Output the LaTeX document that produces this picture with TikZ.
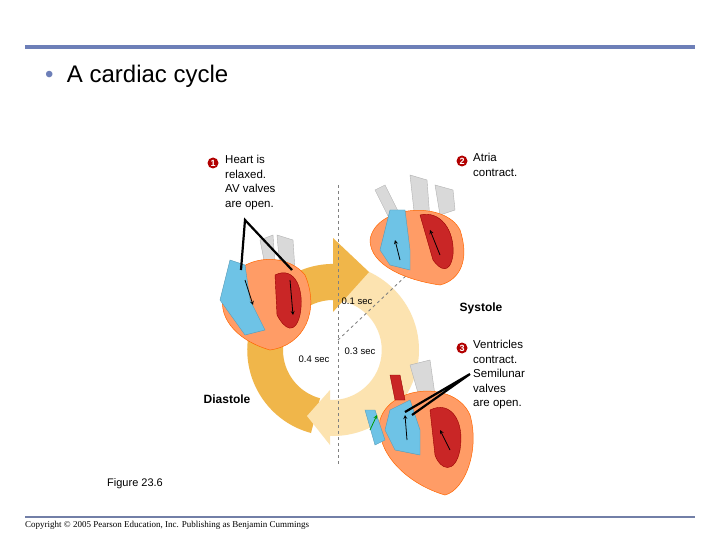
\documentclass[tikz,border=0pt]{standalone}
\usepackage{fontspec}
\usetikzlibrary{calc}
\setmainfont{Liberation Sans}
\newfontfamily\serifx{Liberation Serif}
\begin{document}
\begin{tikzpicture}[x=1pt,y=-1pt,
  lbl/.style={font=\fontsize{11.5}{14.5}\selectfont, align=left, anchor=north west, inner sep=0},
  num/.style={circle, fill=red!70!black, text=white, font=\bfseries\fontsize{9}{9}\selectfont, inner sep=0.5pt, minimum size=11pt},
  bold/.style={font=\bfseries\fontsize{12}{12}\selectfont, inner sep=0},
  dashln/.style={gray, dashed, line width=0.8pt},
  ptr/.style={line width=2.2pt, black},
  wall/.style={fill=orange!70!red!60, draw=orange!80!red, line width=0.5pt},
  bluech/.style={fill=bluec, draw=bluec!80!black},
  redch/.style={fill=red!75!black!85, draw=red!60!black},
  vess/.style={fill=gray!30, draw=gray!60}]
\definecolor{bluec}{HTML}{6EC3E6}
\useasboundingbox (0,0) rectangle (720,540);
\fill[white] (0,0) rectangle (720,540);
\definecolor{dia}{HTML}{F0B64A}
\definecolor{sys}{HTML}{FCE3B0}
\definecolor{hdr}{HTML}{6D7FB8}
% header / footer
\draw[hdr, line width=4pt] (25,47) -- (695,47);
\draw[hdr!70!gray, line width=2pt] (25,517) -- (695,517);
\node[anchor=west, font=\fontsize{24}{24}\selectfont, inner sep=0] (title) at (45,76) {\textcolor{hdr}{\textbullet}\ \ A cardiac cycle};
\node[anchor=west, font=\serifx\fontsize{9}{9}\selectfont, inner sep=0] (copy) at (25,525) {Copyright \textcopyright{} 2005 Pearson Education, Inc. Publishing as Benjamin Cummings};
\node[anchor=west, font=\fontsize{11}{11}\selectfont, inner sep=0] (fig) at (107,484) {Figure 23.6};
% ring
\coordinate (C) at (333,350);
\fill[sys] ($(C)+(0,-86)$) arc[start angle=-90, end angle=92, radius=86] -- ($(C)+(-3,50)$) arc[start angle=92, end angle=-90, radius=50] -- cycle;
\fill[dia] ($(C)+(-22,83)$) arc[start angle=105, end angle=270, radius=86] -- ($(C)+(0,-50)$) arc[start angle=270, end angle=105, radius=50] -- cycle;
\fill[dia] ($(C)+(0,-112)$) -- ($(C)+(36,-78)$) -- ($(C)+(0,-38)$) -- cycle;
\fill[sys] ($(C)+(-3,40)$) -- ($(C)+(-26,66)$) -- ($(C)+(-3,95)$) -- cycle;
% dashed lines
\draw[dashln] (338,185) -- (338,465);
\draw[dashln] (338,340) -- (410,272);
% heart 1 (left)
\begin{scope}[shift={(265,290)}]
\fill[vess] (-5,-50) -- (0,-25) -- (10,-25) -- (8,-55) -- cycle;
\fill[vess] (12,-55) -- (15,-20) -- (30,-20) -- (28,-50) -- cycle;
\draw[wall] (-40,0) .. controls (-30,-35) and (20,-40) .. (40,-15) .. controls (55,20) and (40,55) .. (5,60) .. controls (-30,50) and (-50,25) .. (-40,0) -- cycle;
\draw[bluech] (-35,-30) -- (-20,-25) -- (-15,10) -- (0,40) -- (-20,45) -- (-45,10) -- cycle;
\draw[redch] (10,-15) .. controls (30,-25) and (40,0) .. (35,25) .. controls (30,45) and (20,40) .. (12,25) -- cycle;
\draw[-stealth, thick] (-20,-10) -- (-12,15);
\draw[-stealth, thick] (25,-10) -- (28,25);
\end{scope}
% heart 2 (top right)
\begin{scope}[shift={(415,240)}]
\fill[vess] (-40,-50) -- (-25,-20) -- (-15,-25) -- (-30,-55) -- cycle;
\fill[vess] (-5,-65) -- (0,-20) -- (15,-20) -- (12,-60) -- cycle;
\fill[vess] (20,-55) -- (25,-25) -- (40,-30) -- (38,-50) -- cycle;
\draw[wall] (-45,0) .. controls (-40,-35) and (30,-40) .. (45,-10) .. controls (55,20) and (45,40) .. (25,45) .. controls (-10,40) and (-45,25) .. (-45,0) -- cycle;
\draw[bluech] (-25,-30) -- (-10,-30) -- (-5,10) -- (-5,30) -- (-25,25) -- (-35,10) -- cycle;
\draw[redch] (5,-25) .. controls (25,-30) and (40,-10) .. (38,15) .. controls (35,35) and (25,30) .. (18,20) -- cycle;
\draw[-stealth, thick] (-15,20) -- (-20,0);
\draw[-stealth, thick] (25,15) -- (15,-10);
\end{scope}
% heart 3 (bottom right)
\begin{scope}[shift={(425,430)}]
\fill[vess] (-15,-65) -- (-5,-30) -- (10,-35) -- (5,-70) -- cycle;
\draw[wall] (-45,-10) .. controls (-35,-45) and (30,-50) .. (45,-15) .. controls (55,20) and (40,60) .. (20,65) .. controls (-15,55) and (-50,25) .. (-45,-10) -- cycle;
\draw[bluech] (-35,-20) -- (-15,-30) -- (-5,0) -- (-5,25) -- (-30,20) -- (-40,0) -- cycle;
\draw[bluech] (-60,-20) -- (-50,-20) -- (-40,10) -- (-50,15) -- cycle;
\draw[redch] (5,-20) .. controls (25,-30) and (40,-10) .. (35,20) .. controls (30,45) and (15,40) .. (10,25) -- cycle;
\draw[redch] (-35,-55) -- (-25,-55) -- (-20,-30) -- (-30,-30) -- cycle;
\draw[-stealth, thick] (-18,10) -- (-20,-15);
\draw[-stealth, thick] (25,20) -- (15,0);
\draw[-stealth, thick, green!60!black] (-55,0) -- (-48,-15);
\end{scope}
% labels
\node[num] (n1) at (213,163) {1};
\node[lbl] (t1) at (225,155) {Heart is\\relaxed.\\AV valves\\are open.};
\node[num] (n2) at (462,161) {2};
\node[lbl] (t2) at (473,153) {Atria\\contract.};
\node[num] (n3) at (462,348) {3};
\node[lbl] (t3) at (473,340) {Ventricles\\contract.\\Semilunar\\valves\\are open.};
\node[bold] (sys) at (481,308) {Systole};
\node[bold] (dia) at (227,399) {Diastole};
\node[font=\fontsize{9.5}{9.5}\selectfont, inner sep=0] (s1) at (357,301) {0.1 sec};
\node[font=\fontsize{9.5}{9.5}\selectfont, inner sep=0] (s3) at (360,351) {0.3 sec};
\node[font=\fontsize{9.5}{9.5}\selectfont, inner sep=0] (s4) at (314,359) {0.4 sec};
% pointers
\coordinate (p1) at (245,220);
\draw[ptr] (241,270) -- (p1) -- (292,270);
\coordinate (p3) at (470,374);
\draw[ptr] (405,412) -- (p3) -- (412,415);
\end{tikzpicture}
\end{document}
